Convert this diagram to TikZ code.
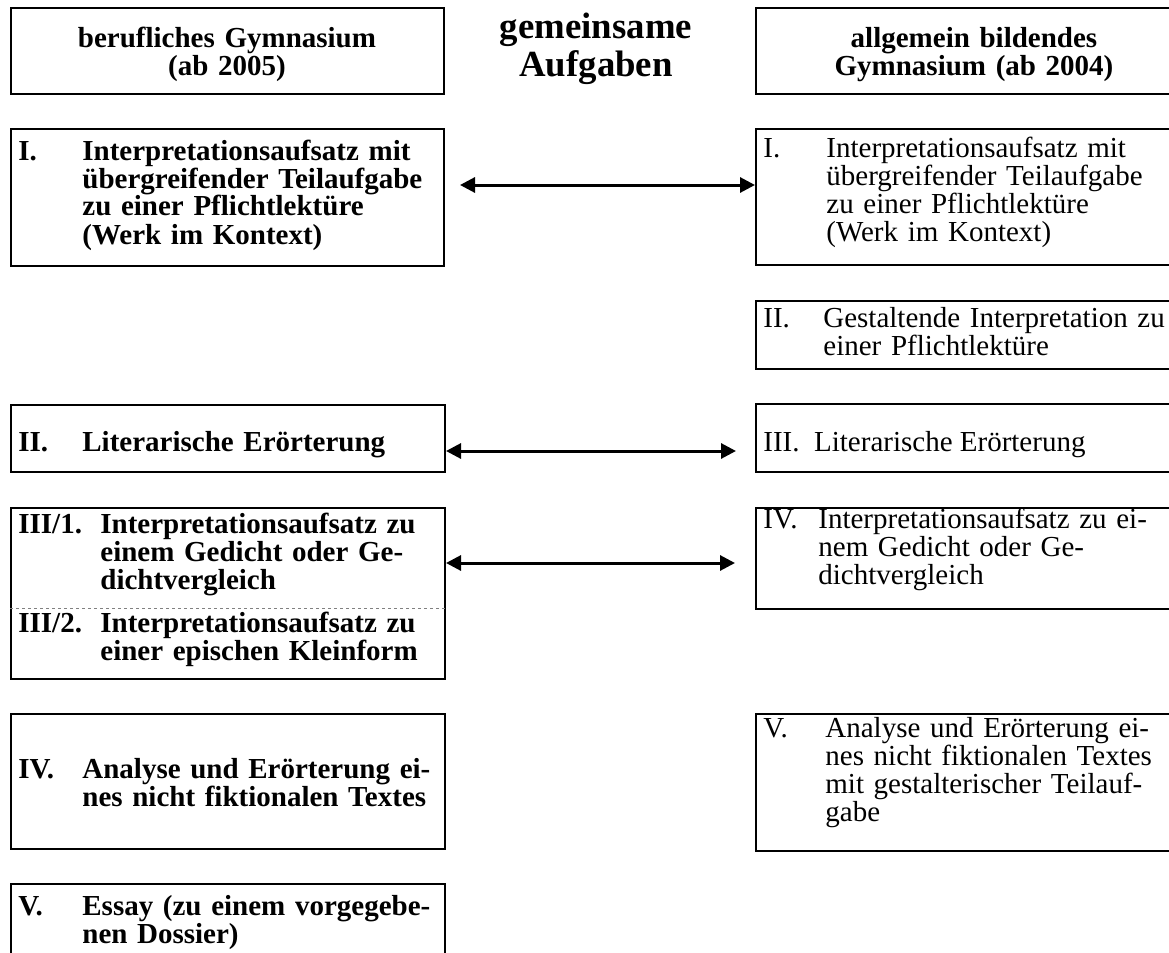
\documentclass[tikz,border=0pt]{standalone}
\usepackage{fontspec}
\setmainfont{Liberation Serif}
\usetikzlibrary{arrows.meta}

\begin{document}
\begin{tikzpicture}[x=0.5pt, y=-0.5pt,
  box/.style={draw, line width=1pt, inner sep=0pt, anchor=north west},
  nr/.style={anchor=base west, inner sep=0pt},
  txt/.style={anchor=base west, inner sep=0pt, align=left, text width=240pt},
  fett/.style={font=\fontsize{14.5}{14}\selectfont\bfseries},
  duenn/.style={font=\fontsize{14.5}{14}\selectfont},
  pfeil/.style={{Triangle[length=7.5pt,width=7.5pt]}-{Triangle[length=7.5pt,width=7.5pt]}, line width=1.5pt},
  trenn/.style={line width=0.5pt, gray, dash pattern=on 1.5pt off 1.5pt}]
\useasboundingbox (0,0) rectangle (1169,953);
\clip (0,0) rectangle (1169,953);

% Kopfzeile
\node[box, minimum width=216.5pt, minimum height=43pt] (kopfL) at (10,7) {};
\node[box, minimum width=222.5pt, minimum height=43pt] (kopfR) at (755,7) {};
\node[fett, anchor=base, inner sep=0pt, align=center, text width=210pt] (tkopfL) at (227,47) {berufliches Gymnasium\\(ab 2005)};
\node[font=\fontsize{18.4}{19}\selectfont\bfseries, anchor=base, inner sep=0pt, align=center, text width=130pt] (mitte) at (596,39) {gemeinsame\\Aufgaben};
\node[fett, anchor=base, inner sep=0pt, align=center, text width=210pt] (tkopfR) at (974,47) {allgemein bildendes\\Gymnasium (ab 2004)};

% berufliches Gymnasium
\node[box, minimum width=216.5pt, minimum height=68.5pt] (lI) at (10,128) {};
\node[fett, nr] (nlI) at (18,160) {I.};
\node[fett, txt] (tlI) at (82,160) {Interpretationsaufsatz mit\\übergreifender Teilaufgabe\\zu einer Pflichtlektüre\\(Werk im Kontext)};

\node[box, minimum width=217pt, minimum height=33.5pt] (lII) at (10,404) {};
\node[fett, nr] (nlII) at (18,451) {II.};
\node[fett, txt] (tlII) at (82,451) {Literarische Erörterung};

\node[box, minimum width=217pt, minimum height=85.5pt] (lIII) at (10,507) {};
\draw[trenn] (lIII.west |- 0,608) -- (lIII.east |- 0,608);
\node[fett, nr] (nlIIIa) at (18,533) {III/1.};
\node[fett, txt] (tlIIIa) at (100,533) {Interpretationsaufsatz zu\\einem Gedicht oder Ge-\\dichtvergleich};
\node[fett, nr] (nlIIIb) at (18,632) {III/2.};
\node[fett, txt] (tlIIIb) at (100,632) {Interpretationsaufsatz zu\\einer epischen Kleinform};

\node[box, minimum width=217pt, minimum height=67.5pt] (lIV) at (10,713) {};
\node[fett, nr] (nlIV) at (18,778) {IV.};
\node[fett, txt] (tlIV) at (82,778) {Analyse und Erörterung ei-\\nes nicht fiktionalen Textes};

\node[box, minimum width=217pt, minimum height=50pt] (lV) at (10,883) {};
\node[fett, nr] (nlV) at (18,915) {V.};
\node[fett, txt] (tlV) at (82,915) {Essay (zu einem vorgegebe-\\nen Dossier)};

% allgemein bildendes Gymnasium
\node[box, minimum width=222.5pt, minimum height=68pt] (rI) at (755,128) {};
\node[duenn, nr] (nrI) at (763,157) {I.};
\node[duenn, txt] (trI) at (826,157) {Interpretationsaufsatz mit\\übergreifender Teilaufgabe\\zu einer Pflichtlektüre\\(Werk im Kontext)};

\node[box, minimum width=222.5pt, minimum height=34pt] (rII) at (755,300) {};
\node[duenn, nr] (nrII) at (763,327) {II.};
\node[duenn, txt] (trII) at (823,327) {Gestaltende Interpretation zu\\einer Pflichtlektüre};

\node[box, minimum width=222.5pt, minimum height=34pt] (rIII) at (755,403) {};
\node[duenn, nr] (nrIII) at (763,451) {III.~~Literarische Erörterung};

\node[box, minimum width=222.5pt, minimum height=50.5pt] (rIV) at (755,507) {};
\node[duenn, nr] (nrIV) at (763,528) {IV.};
\node[duenn, txt] (trIV) at (818,528) {Interpretationsaufsatz zu ei-\\nem Gedicht oder Ge-\\dichtvergleich};

\node[box, minimum width=222.5pt, minimum height=68.5pt] (rV) at (755,713) {};
\node[duenn, nr] (nrV) at (763,737) {V.};
\node[duenn, txt] (trV) at (825,737) {Analyse und Erörterung ei-\\nes nicht fiktionalen Textes\\mit gestalterischer Teilauf-\\gabe};

% Pfeile
\coordinate (p1) at (460,185);
\coordinate (p2) at (736,451);
\coordinate (p3) at (735,563);
\draw[pfeil] (p1) -- (p1 -| rI.west);
\draw[pfeil] (lII.east |- p2) -- (p2);
\draw[pfeil] (lIII.east |- p3) -- (p3);
\end{tikzpicture}
\end{document}
